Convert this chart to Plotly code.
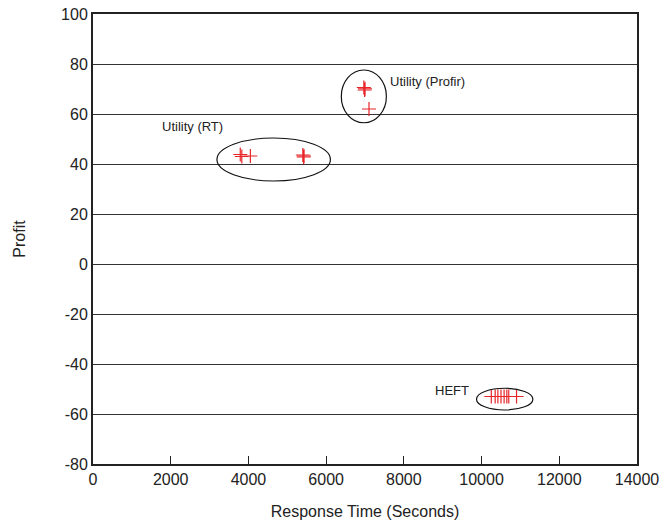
import plotly.graph_objects as go

# Data
rt_x = [3790, 3830, 4050, 5400, 5420, 5430]
rt_y = [43.8, 43.0, 43.2, 43.6, 42.8, 43.2]

pf_x = [6970, 6990, 7000, 7103]
pf_y = [70.6, 69.6, 70.1, 62.0]

heft_x = [10250, 10350, 10420, 10500, 10580, 10650, 10700, 10900]
heft_y = [-53, -53, -53, -53, -53, -53, -53, -53]

# cluster ellipses: (x0, x1, y0, y1)
ellipses = [
    (3190, 6110, 33.2, 50.4),
    (6390, 7550, 56.5, 77.6),
    (9870, 11320, -58.4, -49.7),
]

labels = [
    ("Utility (RT)", 2566, 55.2, "center"),
    ("Utility (Profir)", 7590, 72.9, "left"),
    ("HEFT", 8750, -50.4, "left"),
]

x_ticks = [0, 2000, 4000, 6000, 8000, 10000, 12000, 14000]
y_ticks = [-80, -60, -40, -20, 0, 20, 40, 60, 80, 100]

RED = "#e8262a"
FONT = "Liberation Sans, Arial, sans-serif"

fig = go.Figure()
for xs, ys in [(rt_x, rt_y), (pf_x, pf_y), (heft_x, heft_y)]:
    fig.add_trace(go.Scatter(
        x=xs, y=ys, mode="markers",
        marker=dict(symbol="cross-thin", size=10, line=dict(color=RED, width=1.2), color=RED),
        showlegend=False, hoverinfo="x+y",
    ))

for (x0, x1, y0, y1) in ellipses:
    fig.add_shape(type="circle", xref="x", yref="y", x0=x0, x1=x1, y0=y0, y1=y1,
                  line=dict(color="#111", width=1.2))

for (txt, x, y, anc) in labels:
    fig.add_annotation(x=x, y=y, xref="x", yref="y", text=txt, showarrow=False,
                       xanchor=anc, yanchor="middle",
                       font=dict(family=FONT, size=13, color="#222"))

fig.update_layout(
    width=671, height=529,
    margin=dict(l=93, r=34, t=14, b=65),
    paper_bgcolor="white", plot_bgcolor="white",
    font=dict(family=FONT, size=16, color="#222"),
)
fig.update_xaxes(
    range=[0, 14000], tickvals=x_ticks, ticktext=[str(v) for v in x_ticks],
    showgrid=False, zeroline=False, automargin=False, ticklabeloverflow="allow",
    showline=True, linecolor="#222", linewidth=2, mirror=True,
    ticks="inside", ticklen=8, tickcolor="#222", tickwidth=1,
    tickfont=dict(size=16, color="#222"),
    title=dict(text="Response Time (Seconds)", font=dict(size=16, color="#222"), standoff=19),
)
fig.update_yaxes(
    range=[-80, 100], tickvals=y_ticks, ticktext=[str(v) for v in y_ticks],
    showgrid=True, gridcolor="#333", gridwidth=1, zeroline=False, automargin=False,
    ticklabeloverflow="allow",
    showline=True, linecolor="#222", linewidth=2, mirror=True,
    ticks="", tickfont=dict(size=16, color="#222"),
    title=dict(text="Profit", font=dict(size=16, color="#222"), standoff=31),
)

fig.write_html("out.html", config={"displayModeBar": False},
               post_script="document.body.style.margin='0';")
